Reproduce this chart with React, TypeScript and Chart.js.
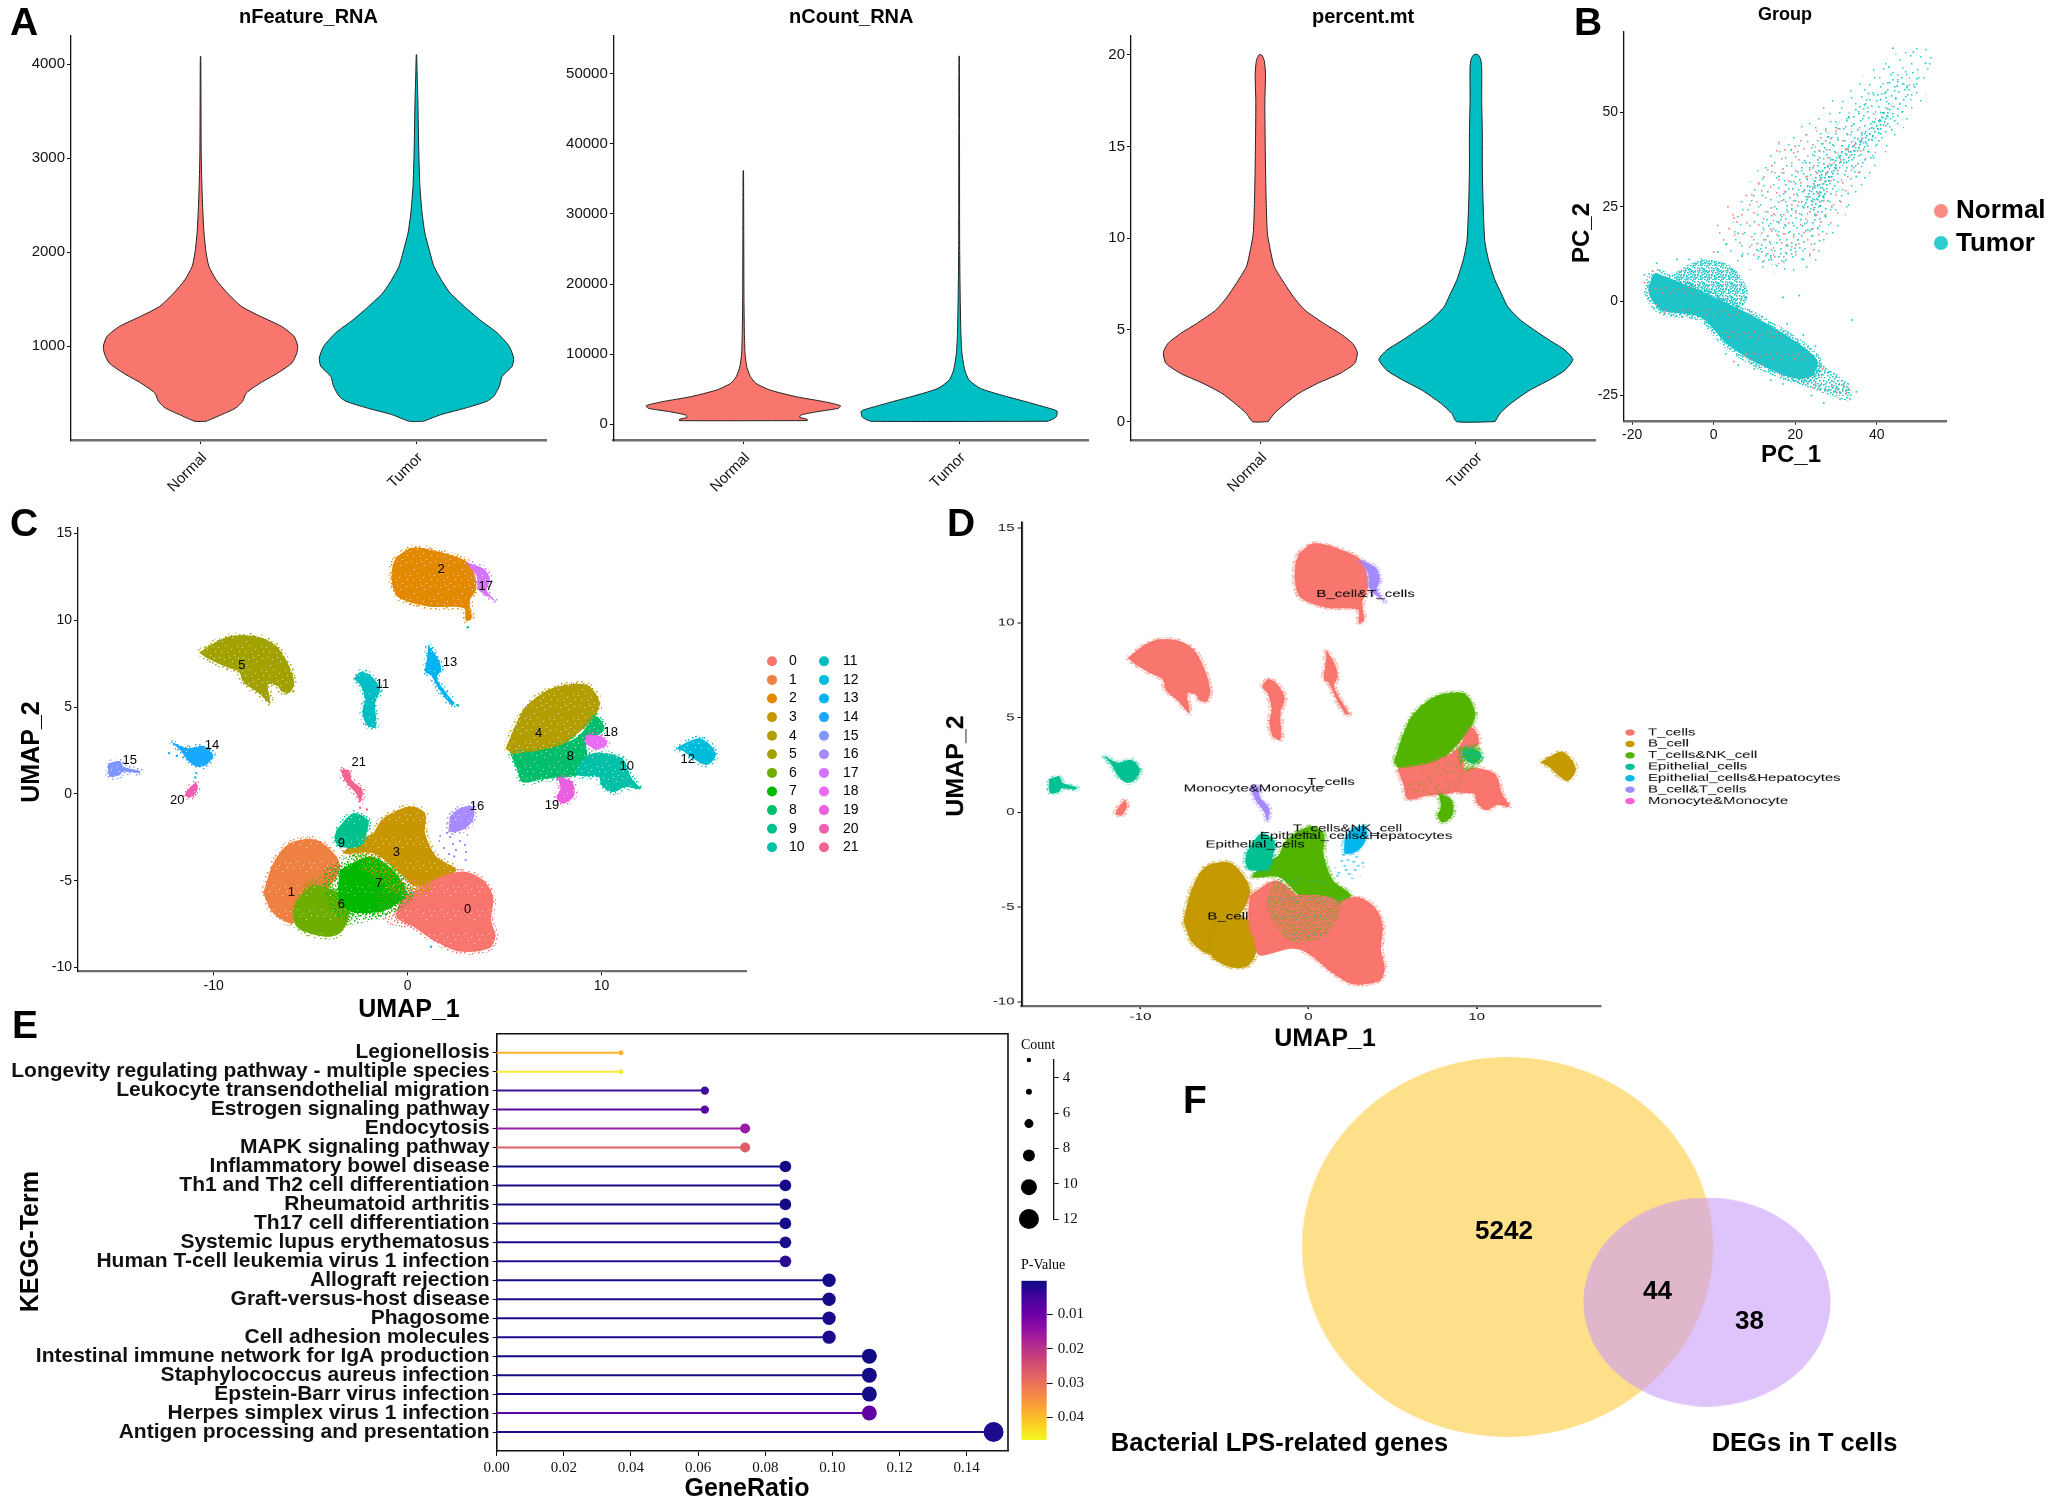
import React, { useEffect, useRef } from "react";
import { Chart, registerables } from "chart.js";
Chart.register(...registerables);

const SANS = '"Liberation Sans", Arial, sans-serif';
const SERIF = '"Liberation Serif", "Times New Roman", serif';
const RED = "#F8766D";
const TEAL = "#00BFC4";

// ---------- Panel A: violin profiles (value, half width in category units) ----------
const groups = ["Normal", "Tumor"];
const featureNormalV = [199, 270, 340, 411, 500, 606, 713, 819, 926, 1000, 1103, 1209, 1316, 1422, 1564, 1706, 1847, 1989, 2202, 2415, 2698, 3053, 3620, 4081];
const featureNormalW = [0.026, 0.098, 0.163, 0.195, 0.212, 0.277, 0.358, 0.423, 0.446, 0.45, 0.433, 0.375, 0.277, 0.189, 0.124, 0.072, 0.039, 0.026, 0.016, 0.011, 0.0065, 0.003, 0.002, 0.001];
const featureTumorV = [199, 270, 340, 411, 465, 571, 677, 784, 872, 996, 1138, 1280, 1422, 1564, 1670, 1847, 2025, 2202, 2415, 2698, 3053, 3620, 3904, 4099];
const featureTumorW = [0.033, 0.114, 0.228, 0.326, 0.358, 0.384, 0.397, 0.443, 0.45, 0.43, 0.375, 0.293, 0.221, 0.156, 0.124, 0.081, 0.059, 0.039, 0.026, 0.016, 0.011, 0.0065, 0.003, 0.001];
const countNormalV = [521, 711, 995, 1327, 1801, 2275, 2654, 3223, 3934, 4882, 5830, 6778, 8200, 10096, 12940, 17680, 27160, 36166];
const countNormalW = [0.296, 0.296, 0.261, 0.267, 0.342, 0.44, 0.45, 0.375, 0.244, 0.124, 0.059, 0.033, 0.016, 0.008, 0.005, 0.003, 0.002, 0.001];
const countTumorV = [427, 711, 1090, 1896, 2512, 3223, 4171, 5119, 6304, 7726, 10096, 12940, 17680, 22420, 27160, 52519];
const countTumorW = [0.407, 0.433, 0.45, 0.453, 0.391, 0.309, 0.195, 0.098, 0.046, 0.026, 0.013, 0.008, 0.005, 0.003, 0.002, 0.001];
const mtNormalV = [0, 0.45, 1, 1.54, 2.09, 2.63, 3.18, 3.76, 4.26, 4.81, 5.35, 6.08, 6.8, 7.53, 8.44, 8.98, 10.25, 12.07, 13.88, 15.7, 17.5, 18.97, 19.7, 20];
const mtNormalW = [0.036, 0.065, 0.118, 0.178, 0.266, 0.37, 0.438, 0.45, 0.429, 0.37, 0.296, 0.207, 0.154, 0.112, 0.065, 0.053, 0.033, 0.027, 0.024, 0.022, 0.021, 0.024, 0.018, 0.006];
const mtTumorV = [0, 0.45, 1, 1.72, 2.27, 2.81, 3.39, 3.9, 4.45, 4.99, 5.54, 6.26, 6.99, 7.71, 8.8, 9.89, 12.07, 13.88, 15.7, 17.5, 19.33, 19.8, 20.02];
const mtTumorW = [0.089, 0.112, 0.163, 0.251, 0.34, 0.414, 0.45, 0.414, 0.34, 0.272, 0.207, 0.148, 0.118, 0.089, 0.059, 0.041, 0.033, 0.03, 0.03, 0.027, 0.027, 0.021, 0.009];
const featureTicks = [1000, 2000, 3000, 4000];
const countTicks = [0, 10000, 20000, 30000, 40000, 50000];
const mtTicks = [0, 5, 10, 15, 20];

// ---------- Panel B: PCA ----------
const pcXTicks = [-20, 0, 20, 40];
const pcYTicks = [-25, 0, 25, 50];
const pcBand = [[-14.3, 7.5], [-6.5, 4.2], [1.4, 0.3], [7.7, -2.8], [15.6, -7.6], [21.9, -12.1], [25.5, -16], [24, -20], [20, -20.5], [14, -18.2], [7.7, -14.7], [3, -11.1], [-3.3, -4.2], [-12.8, -2.4], [-15.9, 2], [-15.1, 6.6]];
const pcBandTail = [[21, -12], [27.4, -17.4], [32.9, -21.8], [33.7, -26.2], [29.8, -25.4], [23.5, -23], [18, -20]];
const pcBump = [[-10, 7], [-6.5, 9.5], [-1.7, 11], [4.6, 9], [8.5, 2], [6.1, -2], [0, 0.3], [-6.5, 2.9]];
const pcArmOuter = [[2, 12], [8, 30], [18, 44], [30, 54], [42, 64], [53, 68], [52, 55], [44, 42], [36, 30], [30, 18], [24, 9], [10, 8]];
const pcArm = [[9.3, 10], [14, 25], [21.9, 37.4], [32.9, 49.7], [43.9, 59.5], [51, 61.2], [47.1, 50.6], [39.2, 38.3], [31.3, 30.4], [27.4, 22.5], [23.5, 15.3], [17.2, 10]];
const pcArmCore = [[21.9, 25], [25, 33.8], [39.2, 47], [43.9, 53.3], [40.8, 44.5], [29.8, 33.8], [25.8, 23.2]];
const pcArmNormal = [[-0.2, 17.9], [9.3, 30.3], [17.2, 41.8], [32.9, 46.2], [38, 40], [30, 22], [24, 12], [10, 10]];
const pcTumorStray = [[43, 62], [44, 67], [49, 66], [52, 63], [38, 55], [45, 57], [37, 52], [30, 46], [28, 43.5], [41, 50], [47.5, 57], [35, 33], [33, 28.5], [26, 28], [24, 19], [20, 14], [14, 12], [10, 21], [6, 18], [3, 15], [1, 13], [-3, 11], [-6, 11], [7, 12], [30, 35], [36, 42], [42, 55], [16, 33], [19, 40], [12, 28], [22, 11], [26, 16], [29, 25], [34, -5], [21, 1.5], [17, 1], [-9, 11], [-14, 10], [-17, 7], [-16, 4], [30, -20], [31, -26], [35, -24], [27, -27], [25, -12], [22, -9], [18, -6], [33, -22], [3, -14], [6, -17], [10, -18], [14, -21], [17, -22], [24, -25]];
const pcNormalStray = [[0, 13], [1, 20], [3.5, 25], [5, 22], [8, 28], [11, 31], [16, 42], [20, 41], [17, 35], [23, 33], [27, 31], [28, 38], [33, 40], [30, 45], [18, 15], [24, 15], [-17, 5], [-15, 8], [-14, -1], [-12, -3], [30, -24], [33, -23], [25, -22], [5, -16], [8, -14], [12, -17]];

// ---------- Panels C and D: UMAP cluster outlines ----------
const umapXTicks = [-10, 0, 10];
const umapYTicks = [-10, -5, 0, 5, 10, 15];
const cluster0 = [[-0.3, -5.9], [0.45, -5.53], [1.48, -4.9], [2.85, -4.47], [3.88, -4.95], [4.4, -5.91], [4.31, -7.26], [4.53, -8.22], [4.22, -8.89], [2.68, -9.08], [1.31, -8.41], [0.28, -7.64], [-0.58, -7.07]];
const cluster1 = [[-7.45, -5.72], [-6.93, -3.99], [-6.07, -2.84], [-4.7, -2.65], [-3.67, -3.61], [-3.5, -4.38], [-4.18, -5.53], [-5.04, -6.3], [-5.9, -7.45], [-6.93, -6.87]];
const cluster2 = [[-0.6, 13.65], [0.3, 14.2], [2, 13.84], [3.2, 13.25], [3.55, 11.9], [3.2, 11.1], [3.3, 10.1], [3, 10], [2.9, 10.7], [1.05, 10.8], [-0.45, 11.3], [-0.8, 12.1], [-0.8, 13]];
const cluster3 = [[-1.77, -2.27], [-1.25, -1.4], [0.12, -0.73], [0.9, -1.11], [0.9, -2.27], [1.48, -3.61], [2.51, -4.38], [1.65, -4.95], [0.45, -5.34], [-0.41, -4.57], [-1.77, -3.42], [-3.33, -3.42], [-2.47, -2.65]];
const cluster4 = [[5.06, 2.63], [5.61, 4.09], [6.21, 5.17], [7.58, 6.14], [9.24, 6.28], [9.91, 5.26], [9.55, 4.29], [8.79, 3.51], [7.73, 2.53], [7.12, 2.14], [5.76, 2.05]];
const cluster5 = [[-10.76, 8.15], [-9.7, 8.87], [-8.94, 9.12], [-7.73, 9.06], [-6.82, 8.58], [-6.21, 7.6], [-5.85, 6.43], [-6.06, 5.85], [-6.5, 5.9], [-6.7, 6.2], [-7.2, 6.3], [-7.1, 5.5], [-7.12, 5.22], [-7.73, 5.85], [-8.48, 6.43], [-8.7, 7.02], [-9.55, 7.4], [-10.3, 7.8]];
const cluster6 = [[-4.9, -5.2], [-3.5, -5.72], [-3, -6.87], [-3.5, -8.03], [-4.35, -8.22], [-5.73, -7.64], [-5.8, -6.3]];
const cluster7 = [[-3.5, -4.38], [-1.95, -3.6], [-0.76, -4.38], [-0.07, -5.72], [-1.1, -6.68], [-2.64, -6.87], [-3.33, -6.49], [-3.58, -5.53]];
const cluster8 = [[5.3, 2.3], [7.27, 2.6], [8.79, 3.31], [9.7, 4.48], [10.15, 3.7], [9.24, 2.92], [9.3, 1.9], [9, 1.2], [8.2, 0.95], [7.12, 0.88], [5.91, 0.68], [5.67, 1.36]];
const cluster9 = [[-3.67, -2.07], [-2.81, -1.11], [-2.04, -1.5], [-2.12, -2.27], [-2.47, -3.03], [-3.5, -3.03], [-3.76, -2.65]];
const cluster10 = [[8.79, 1.56], [9.55, 2.34], [11.06, 2.05], [11.52, 0.97], [11.97, 0.29], [11.21, 0.39], [10.6, 0.1], [10, 0.49], [9.85, 0.97], [8.79, 1.07]];
const cluster11 = [[-2.79, 6.63], [-2.42, 7.02], [-1.91, 6.82], [-1.42, 6.04], [-1.67, 5.26], [-1.61, 4], [-1.73, 3.8], [-2.12, 4], [-2.33, 4.68], [-2.21, 5.46], [-2.42, 6.24]];
const cluster12 = [[13.79, 2.63], [15, 3.2], [15.6, 2.83], [15.9, 2.24], [15.45, 1.66], [14.85, 1.95], [14.24, 2.44]];
const cluster13 = [[1.06, 8.58], [1.52, 7.89], [1.73, 7.21], [1.52, 6.63], [1.97, 5.85], [2.42, 5.17], [2.21, 5.17], [1.61, 6.04], [1.21, 6.82], [0.91, 7.02], [1, 7.8]];
const cluster14 = [[-12.21, 3.02], [-11.36, 2.63], [-10.55, 2.77], [-10.03, 2.24], [-10.39, 1.66], [-10.85, 1.56], [-11.36, 1.95], [-11.67, 2.44]];
const cluster15 = [[-15.45, 1.75], [-14.85, 1.89], [-14.64, 1.56], [-13.79, 1.31], [-13.85, 1.21], [-14.7, 1.27], [-14.85, 1.07], [-15.36, 1], [-15.45, 1.36]];
const cluster16 = [[2.17, -1.3], [2.68, -0.83], [3.37, -0.73], [3.37, -1.5], [2.85, -2.07], [2.17, -2.17]];
const cluster17 = [[3.03, 13.35], [3.94, 12.96], [4.24, 12.38], [4.09, 11.7], [4.55, 11.1], [4.24, 11.3], [3.64, 11.79], [3.55, 12.57]];
const cluster18 = [[9.24, 3.41], [10, 3.31], [10.3, 2.92], [9.79, 2.57], [9.18, 2.92]];
const cluster19 = [[7.73, 1], [8.48, 0.7], [8.58, -0.1], [8.03, -0.55], [7.67, -0.2], [7.88, 0.29]];
const cluster20 = [[-10.91, 0.68], [-10.82, 0.29], [-11.12, -0.16], [-11.48, -0.1], [-11.3, 0.29]];
const cluster21 = [[-3.48, 1.4], [-3, 1.36], [-2.88, 0.78], [-2.33, 0.2], [-2.45, -0.49], [-2.64, 0], [-3.18, 0.68]];
const clusters = [cluster0, cluster1, cluster2, cluster3, cluster4, cluster5, cluster6, cluster7, cluster8, cluster9, cluster10, cluster11, cluster12, cluster13, cluster14, cluster15, cluster16, cluster17, cluster18, cluster19, cluster20, cluster21];
const clusterColors = ["#F8766D", "#EE8042", "#E28900", "#C89600", "#B29E00", "#A1A100", "#6EAE00", "#00B800", "#00BE6B", "#00C08E", "#00C1A7", "#00BFC4", "#00BBDB", "#00B3F2", "#19A8FF", "#7F96FF", "#A88BFF", "#D575FE", "#E96CF3", "#EA5FDD", "#EF5FB0", "#F4648F"];
const clusterLabelX = [3.09, -6, 1.73, -0.58, 6.76, -8.55, -3.42, -1.48, 8.39, -3.42, 11.3, -1.3, 14.45, 2.18, -10.09, -14.33, 3.58, 4.03, 10.48, 7.45, -11.88, -2.52];
const clusterLabelY = [-6.63, -5.69, 12.96, -3.35, 3.51, 7.41, -6.39, -5.17, 2.14, -2.88, 1.56, 6.28, 1.99, 7.6, 2.77, 1.91, -0.74, 11.95, 3.53, -0.64, -0.35, 1.79];
const paintOrder = [1, 6, 3, 9, 0, 7, 2, 17, 5, 11, 13, 14, 15, 20, 21, 12, 4, 8, 10, 18, 19, 16];
const cluster16Sparse = [[1.65, -2.27], [3.2, -2.07], [3.03, -3.42], [1.65, -3.42]];
const mix7 = [[-4.35, -4.38], [-2.47, -3.42], [-0.41, -4.57], [0.28, -5.91], [-0.76, -6.87], [-2.47, -7.45], [-3.33, -7.45], [-4.18, -6.1]];
const mix3 = [[-3.18, -3.31], [-1.67, -2.73], [0.15, -4.48], [1.36, -5.26], [0.15, -6.04], [-1.67, -4.87]];
const mix6 = [[-5.3, -5.07], [-4.09, -4.68], [-4.09, -7.02], [-5.6, -7.41]];
const mix0 = [[-1.5, -5.5], [0.5, -5], [0.6, -7.6], [-1.5, -7.2]];
const mix8 = [[5.7, 1.9], [7.4, 2.4], [8.9, 3.6], [9.9, 2.6], [8.6, 1.2], [6.4, 0.8]];
const mix18 = [[8.8, 3.4], [10.1, 3.6], [10.3, 2.5], [9.2, 2.2]];
const mixD = [[-2, -3.5], [0, -3.3], [2, -4.5], [1, -6.5], [-1, -6.8], [-2.5, -5]];
const bridgeD = [[-3.2, -4.4], [1.6, -4.6], [1.2, -7.4], [-1, -7.2], [-3, -7.5]];
const umapStray = [[-12.3, 2.35, 14], [-11.9, 2.2, 14], [-10.9, 1.2, 14], [-10.95, 0.95, 14], [2.6, 5.1, 8], [3.1, 9.6, 9], [-2.1, -0.9, 21], [-2.45, -0.8, 21], [1.75, -3.9, 3], [3, -3.8, 16], [2.4, -3.6, 16], [12, 0.4, 10], [1.2, -8.8, 13], [-0.1, -5.6, 9], [0.2, -5.7, 9]];

const cellTypes = ["T_cells", "B_cell", "T_cells&NK_cell", "Epithelial_cells", "Epithelial_cells&Hepatocytes", "B_cell&T_cells", "Monocyte&Monocyte"];
const cellColors = ["#F8766D", "#C49A00", "#53B400", "#00C094", "#00B6EB", "#A58AFF", "#FB61D7"];
const clusterCellType = [0, 1, 0, 2, 2, 0, 1, 0, 0, 3, 0, 0, 1, 0, 3, 3, 4, 5, 3, 2, 0, 5];
const cellLabelX = [1.33, -4.8, 2.32, -3.18, 2.83, 3.39, -3.26];
const cellLabelY = [1.6, -5.51, -0.87, -1.7, -1.26, 11.51, 1.25];

// ---------- Panel E: KEGG lollipops ----------
const keggTerms = ["Legionellosis", "Longevity regulating pathway - multiple species", "Leukocyte transendothelial migration", "Estrogen signaling pathway", "Endocytosis", "MAPK signaling pathway", "Inflammatory bowel disease", "Th1 and Th2 cell differentiation", "Rheumatoid arthritis", "Th17 cell differentiation", "Systemic lupus erythematosus", "Human T-cell leukemia virus 1 infection", "Allograft rejection", "Graft-versus-host disease", "Phagosome", "Cell adhesion molecules", "Intestinal immune network for IgA production", "Staphylococcus aureus infection", "Epstein-Barr virus infection", "Herpes simplex virus 1 infection", "Antigen processing and presentation"];
const keggRatio = [0.037, 0.037, 0.062, 0.062, 0.074, 0.074, 0.086, 0.086, 0.086, 0.086, 0.086, 0.086, 0.099, 0.099, 0.099, 0.099, 0.111, 0.111, 0.111, 0.111, 0.148];
const keggCount = [3, 3, 5, 5, 6, 6, 7, 7, 7, 7, 7, 7, 8, 8, 8, 8, 9, 9, 9, 9, 12];
const keggColors = ["#FBB32F", "#F4E838", "#3F0E9C", "#5A06A3", "#9A1BA5", "#DD5E67", "#150B88", "#160B88", "#150B88", "#150B88", "#1A0C8C", "#2A0C93", "#140B87", "#160B88", "#180B8A", "#1A0C8C", "#130B86", "#140B87", "#160B88", "#6003A5", "#1E0C8E"];
const ratioTicks = [0, 0.02, 0.04, 0.06, 0.08, 0.1, 0.12, 0.14];
const sizeLegendCounts = [3, 4.8, 6.6, 8.4, 10.2, 12];
const sizeLegendRadius = [2.2, 3, 4.5, 6, 8, 10];
const sizeLegendTicks = [4, 6, 8, 10, 12];
const pValueTicks = [0.01, 0.02, 0.03, 0.04];
const pValueRange = [0.0002, 0.0466];
const plasmaStops = ["#0D0887", "#41049D", "#6A00A8", "#8F0DA4", "#B12A90", "#CC4678", "#E16462", "#F1844B", "#FCA636", "#FCCE25", "#F0F921"];

// ---------- Panel F: Venn ----------
const vennX = [407.5, 607];
const vennY = [207, 262];
const vennRx = [205.7, 123.6];
const vennRy = [190, 104.4];
const vennColors = ["rgb(254,224,139)", "rgba(200,152,248,0.58)"];
const vennCounts = ["5242", "44", "38"];
const vennCountX = [404, 557.4, 649.5];
const vennCountY = [191.7, 251.7, 281.7];
const vennNames = ["Bacterial LPS-related genes", "DEGs in T cells"];

const TILE = [[3, 5], [17, 2], [29, 9], [41, 4], [9, 14], [23, 16], [36, 21], [46, 13], [5, 26], [15, 30], [31, 33], [43, 27], [12, 41], [26, 25], [38, 44], [21, 38], [1, 36], [33, 1], [8, 21], [19, 10], [44, 36], [27, 43], [35, 12], [13, 33], [47, 22], [6, 44], [24, 6], [40, 30], [16, 20], [30, 18], [2, 15], [37, 38], [10, 8], [22, 29], [45, 45], [28, 35], [18, 46], [34, 26], [42, 17], [4, 32]];

function stipple(color: string, count: number, size: number, bg?: string, tile = 48) {
  const c = document.createElement("canvas");
  c.width = tile; c.height = tile;
  const g = c.getContext("2d")!;
  if (bg) { g.fillStyle = bg; g.fillRect(0, 0, tile, tile); }
  g.fillStyle = color;
  TILE.slice(0, count).forEach(([x, y]) => g.fillRect(Math.round((x * tile) / 48), Math.round((y * tile) / 48), size, size));
  return g.createPattern(c, "repeat")!;
}

type Box = { x: number; y: number; w: number; h: number; sx?: number };
type Plot = { l: number; t: number; r: number; b: number };
type Item = { t: string; x: number; y: number; font: string; align?: string; color?: string; rot?: number; flat?: boolean; data?: boolean };
type Dot = { x: number; y: number; r: number; color: string };

function overlay(box: Box, items: Item[], dots: Dot[] = [], frameRect?: Plot) {
  const sx = box.sx || 1;
  return {
    id: "overlay",
    afterDraw(chart: any) {
      const ctx = chart.ctx;
      ctx.save();
      if (frameRect) {
        ctx.strokeStyle = "#111"; ctx.lineWidth = 1.6;
        ctx.beginPath();
        ctx.moveTo(frameRect.l - box.x, frameRect.t - box.y);
        ctx.lineTo(frameRect.r - box.x, frameRect.t - box.y);
        ctx.lineTo(frameRect.r - box.x, frameRect.b - box.y);
        ctx.stroke();
      }
      dots.forEach((d) => {
        ctx.fillStyle = d.color;
        ctx.beginPath();
        ctx.arc((d.x - box.x) / sx, d.y - box.y, d.r, 0, Math.PI * 2);
        ctx.fill();
      });
      items.forEach((it) => {
        const px = it.data ? chart.scales.x.getPixelForValue(it.x) : (it.x - box.x) / sx;
        const py = it.data ? chart.scales.y.getPixelForValue(it.y) : it.y - box.y;
        ctx.save();
        ctx.translate(px, py);
        if (it.flat && sx !== 1) ctx.scale(1 / sx, 1);
        if (it.rot) ctx.rotate(it.rot);
        ctx.font = it.font;
        ctx.fillStyle = it.color || "#000";
        ctx.textAlign = it.align || "center";
        ctx.textBaseline = "middle";
        ctx.fillText(it.t, 0, 0);
        ctx.restore();
      });
      ctx.restore();
    },
  };
}

function axis(o: any) {
  const horizontal = o.side === "bottom" || o.side === "top";
  return {
    type: "linear",
    min: o.min,
    max: o.max,
    reverse: !!o.reverse,
    position: o.side,
    display: o.hidden ? false : true,
    afterBuildTicks: (s: any) => { s.ticks = (o.ticks || []).map((v: number) => ({ value: v })); },
    afterFit: (s: any) => {
      if (horizontal) s.height = o.fit; else s.width = o.fit;
      s.paddingLeft = 0; s.paddingRight = 0; s.paddingTop = 0; s.paddingBottom = 0;
    },
    grid: { display: true, drawOnChartArea: false, drawTicks: true, tickLength: o.tick ?? 4, tickColor: "#111", color: "#111" },
    border: { display: o.noBorder ? false : true, color: o.lineColor || "#111", width: o.lineWidth || 1.3 },
    ticks: {
      autoSkip: false,
      maxRotation: o.rotate || 0,
      minRotation: o.rotate || 0,
      labelOffset: o.labelOffset || 0,
      padding: o.pad ?? 2,
      color: "#111",
      font: { family: o.family || SANS, size: o.size || 14, weight: o.weight || "normal" },
      callback: (v: number) => (o.label ? o.label(v) : String(v)),
    },
  };
}

function base(box: Box, plot: Plot, scales: any, extra: any = {}) {
  const sx = box.sx || 1;
  return {
    animation: false,
    responsive: false,
    maintainAspectRatio: false,
    devicePixelRatio: sx !== 1 ? 2 : 1,
    events: [],
    layout: {
      autoPadding: false,
      padding: {
        left: extra.padLeft ? (plot.l - box.x) / sx : 0,
        top: plot.t - box.y,
        right: extra.padRight === false ? 0 : (box.x + box.w - plot.r) / sx,
        bottom: extra.padBottom ? box.y + box.h - plot.b : 0,
      },
    },
    plugins: { legend: { display: false }, tooltip: { enabled: false } },
    scales,
  };
}

function shape(points: number[][], fill: any, line?: any, opts: any = {}) {
  return {
    type: "scatter",
    data: points.concat([points[0]]).map(([x, y]) => ({ x, y })),
    showLine: true,
    fill: "shape",
    backgroundColor: fill,
    borderColor: line || "rgba(0,0,0,0)",
    borderWidth: line ? opts.width ?? 5 : 0,
    borderDash: opts.dash ?? [],
    pointRadius: 0,
    tension: opts.tension ?? 0.3,
  };
}

function strays(points: number[][], color: string, r: number) {
  return { type: "scatter", data: points.map(([x, y]) => ({ x, y })), backgroundColor: color, borderWidth: 0, pointRadius: r };
}

function violin(center: number, v: number[], w: number[], color: string) {
  const right = v.map((val, i) => [center + w[i], val]);
  const left = v.map((val, i) => [center - w[i], val]).reverse();
  return shape(right.concat(left), color, "#222", { width: 1, tension: 0.2 });
}

function violinChart(box: Box, plot: Plot, name: string, ticks: number[], ymin: number, ymax: number, a: any[], xMax = 2.6) {
  const items: Item[] = [{ t: name, x: (plot.l + plot.r) / 2, y: 17, font: `bold 20px ${SANS}` }];
  return {
    type: "scatter",
    data: { datasets: [violin(1, a[0], a[1], RED), violin(2, a[2], a[3], TEAL)] },
    options: base(box, plot, {
      x: axis({ side: "bottom", min: 0.4, max: xMax, ticks: [1, 2], label: (v: number) => groups[v - 1], rotate: 45, size: 15, fit: box.y + box.h - plot.b, lineColor: "#6e6e6e", lineWidth: 2.6, pad: 5, labelOffset: 4 }),
      y: axis({ side: "left", min: ymin, max: ymax, ticks, size: 15, fit: plot.l - box.x }),
    }),
    plugins: [overlay(box, items)],
  };
}

function umapLayersC() {
  const layers: any[] = [];
  paintOrder.forEach((id) => {
    const col = clusterColors[id];
    const airy = id === 4 || id === 5 || id === 10 || id === 8 || id === 2;
    layers.push(shape(clusters[id], stipple("rgba(255,255,255,0.7)", airy ? 14 : 8, 1, col, 24), stipple(col, 40, 1.5, undefined, 22), { width: 6 }));
  });
  layers.push(shape(mix0, stipple(clusterColors[0], 40, 1.5, undefined, 20)));
  layers.push(shape(mix6, stipple(clusterColors[6], 40, 1.5, undefined, 18)));
  layers.push(shape(mix3, stipple(clusterColors[3], 40, 1.5, undefined, 18)));
  layers.push(shape(mix7, stipple(clusterColors[7], 40, 1.5, undefined, 20)));
  layers.push(shape(cluster16Sparse, stipple(clusterColors[16], 22, 2, undefined, 36)));
  clusterColors.forEach((c, id) => {
    const pts = umapStray.filter((p) => p[2] === id);
    if (pts.length) layers.push(strays(pts, c, 1.2));
  });
  return layers.reverse();
}

function umapLayersD() {
  const layers: any[] = [];
  const colorOf = (id: number) => cellColors[clusterCellType[id]];
  paintOrder.forEach((id) => {
    if (id === 0) layers.push(shape(bridgeD, cellColors[0]));
    layers.push(shape(clusters[id], colorOf(id), stipple(colorOf(id), 40, 1.2, undefined, 14), { width: 4 }));
  });
  layers.push(shape(mixD, stipple(cellColors[2], 40, 1, undefined, 14)));
  layers.push(shape(mixD, stipple(cellColors[4], 5, 1, undefined, 18)));
  layers.push(shape(mix8, stipple(cellColors[2], 14, 1, undefined, 20)));
  layers.push(shape(mix18, stipple(cellColors[2], 40, 1.2, undefined, 12)));
  layers.push(shape(cluster16Sparse, stipple(cellColors[4], 22, 1.5, undefined, 26)));
  return layers.reverse();
}

const boxA1: Box = { x: 0, y: 0, w: 550, h: 495 };
const boxA2: Box = { x: 555, y: 0, w: 540, h: 495 };
const boxA3: Box = { x: 1095, y: 0, w: 505, h: 495 };
const boxB: Box = { x: 1570, y: 0, w: 480, h: 495 };
const boxC: Box = { x: 0, y: 500, w: 920, h: 530 };
const boxD: Box = { x: 940, y: 500, w: 960, h: 560, sx: 1.5 };
const boxE: Box = { x: 0, y: 1015, w: 1012, h: 491 };
const boxCount: Box = { x: 1015, y: 1030, w: 80, h: 210 };
const boxBar: Box = { x: 1015, y: 1255, w: 80, h: 200 };
const boxF: Box = { x: 1100, y: 1040, w: 950, h: 466 };

const PANELS: { key: string; box: Box; build: (c: HTMLCanvasElement) => any }[] = [
  { key: "a1", box: boxA1, build: () => violinChart(boxA1, { l: 71, t: 36, r: 546, b: 440 }, "nFeature_RNA", featureTicks, 0, 4298, [featureNormalV, featureNormalW, featureTumorV, featureTumorW]) },
  { key: "a2", box: boxA2, build: () => violinChart(boxA2, { l: 613.8, t: 36, r: 1088.7, b: 440 }, "nCount_RNA", countTicks, -2240, 55370, [countNormalV, countNormalW, countTumorV, countTumorW]) },
  { key: "a3", box: boxA3, build: () => violinChart(boxA3, { l: 1131, t: 36, r: 1595.3, b: 440 }, "percent.mt", mtTicks, -1, 21.03, [mtNormalV, mtNormalW, mtTumorV, mtTumorW], 2.554) },
  {
    key: "b", box: boxB, build: () => {
      const plot = { l: 1624, t: 32, r: 1946, b: 420.7 };
      const items: Item[] = [
        { t: "Group", x: 1785, y: 14.7, font: `bold 18px ${SANS}` },
        { t: "PC_1", x: 1791, y: 455, font: `bold 24px ${SANS}` },
        { t: "PC_2", x: 1582.5, y: 233, font: `bold 24px ${SANS}`, rot: -Math.PI / 2 },
        { t: groups[0], x: 1956, y: 211, font: `bold 26px ${SANS}`, align: "left" },
        { t: groups[1], x: 1956, y: 244, font: `bold 26px ${SANS}`, align: "left" },
      ];
      const dots: Dot[] = [{ x: 1941, y: 211, r: 7, color: "#F98B83" }, { x: 1941, y: 243, r: 7, color: "#2ECBCF" }];
      const layers = [
        shape(pcBandTail, stipple(RED, 10, 1.6, undefined, 24)),
        shape(pcBandTail, stipple("#19C3C8", 40, 1.6, undefined, 18)),
        shape(pcBump, stipple("#19C3C8", 40, 1.6, undefined, 14)),
        shape(pcArmOuter, stipple("#2ECBCF", 24, 1.5, undefined, 44)),
        shape(pcArm, stipple("#2ECBCF", 30, 1.6, undefined, 34)),
        shape(pcArmCore, stipple("#19C3C8", 40, 1.6, undefined, 26)),
        shape(pcArmNormal, stipple("#F98B83", 18, 1.6, undefined, 42)),
        shape(pcBand, stipple(RED, 6, 1.5, "#1FC4C9", 22), stipple("#1FC4C9", 36, 1.6, undefined, 16), { width: 9 }),
        strays(pcTumorStray, "#2ECBCF", 1),
        strays(pcNormalStray, "#F98B83", 1),
      ].reverse();
      return {
        type: "scatter",
        data: { datasets: layers },
        options: base(boxB, plot, {
          x: axis({ side: "bottom", min: -22, max: 57, ticks: pcXTicks, size: 14, fit: boxB.y + boxB.h - plot.b, lineColor: "#6e6e6e", lineWidth: 2.4 }),
          y: axis({ side: "left", min: -31.7, max: 71.3, ticks: pcYTicks, size: 14, fit: plot.l - boxB.x }),
        }),
        plugins: [overlay(boxB, items, dots)],
      };
    },
  },
  {
    key: "c", box: boxC, build: () => {
      const plot = { l: 78, t: 528, r: 746, b: 971.3 };
      const items: Item[] = [
        { t: "UMAP_1", x: 409, y: 1010.5, font: `bold 25px ${SANS}` },
        { t: "UMAP_2", x: 32, y: 752, font: `bold 25px ${SANS}`, rot: -Math.PI / 2 },
      ];
      clusterLabelX.forEach((x, i) => items.push({ t: String(i), x, y: clusterLabelY[i], data: true, font: `13px ${SANS}` }));
      const dots: Dot[] = [];
      clusterColors.forEach((color, i) => {
        const col = i < 11 ? 0 : 1;
        const row = i < 11 ? i : i - 11;
        const y = 661.3 + row * 18.6;
        dots.push({ x: col ? 824 : 772, y, r: 5, color });
        items.push({ t: String(i), x: col ? 843 : 789, y, font: `14px ${SANS}`, align: "left" });
      });
      return {
        type: "scatter",
        data: { datasets: umapLayersC() },
        options: base(boxC, plot, {
          x: axis({ side: "bottom", min: -17, max: 17.45, ticks: umapXTicks, size: 14, fit: boxC.y + boxC.h - plot.b, lineColor: "#6e6e6e", lineWidth: 2.2 }),
          y: axis({ side: "left", min: -10.22, max: 15.32, ticks: umapYTicks, size: 14, fit: plot.l - boxC.x }),
        }),
        plugins: [overlay(boxC, items, dots)],
      };
    },
  },
  {
    key: "d", box: boxD, build: () => {
      const plot = { l: 1022, t: 522, r: 1601, b: 1006 };
      const items: Item[] = [
        { t: "UMAP_1", x: 1325, y: 1039, font: `bold 25px ${SANS}`, flat: true },
        { t: "UMAP_2", x: 956, y: 766, font: `bold 25px ${SANS}`, flat: true, rot: -Math.PI / 2 },
      ];
      const dots: Dot[] = [];
      cellTypes.forEach((name, i) => {
        items.push({ t: name, x: cellLabelX[i], y: cellLabelY[i], data: true, font: `10px ${SANS}` });
        const y = 732.5 + i * 11.43;
        dots.push({ x: 1630, y, r: 3.2, color: cellColors[i] });
        items.push({ t: name, x: 1648, y, font: `10px ${SANS}`, align: "left" });
      });
      return {
        type: "scatter",
        data: { datasets: umapLayersD() },
        options: base(boxD, plot, {
          x: axis({ side: "bottom", min: -17.05, max: 17.4, ticks: umapXTicks, size: 10, fit: boxD.y + boxD.h - plot.b, lineColor: "#6e6e6e", lineWidth: 2.2, tick: 3 }),
          y: axis({ side: "left", min: -10.22, max: 15.32, ticks: umapYTicks, size: 10, fit: (plot.l - boxD.x) / 1.5, tick: 3 }),
        }),
        plugins: [overlay(boxD, items, dots)],
      };
    },
  },
  {
    key: "e", box: boxE, build: () => {
      const plot = { l: 496.7, t: 1033.7, r: 1008, b: 1451 };
      const rowCount = keggTerms.length;
      const items: Item[] = [
        { t: "GeneRatio", x: 747, y: 1489, font: `bold 25px ${SANS}` },
        { t: "KEGG-Term", x: 31.5, y: 1241.7, font: `bold 25px ${SANS}`, rot: -Math.PI / 2 },
      ];
      const datasets = keggTerms.map((_, i) => ({
        type: "scatter",
        data: [{ x: 0, y: rowCount - i }, { x: keggRatio[i], y: rowCount - i }],
        showLine: true,
        borderColor: keggColors[i],
        borderWidth: 2,
        backgroundColor: keggColors[i],
        pointRadius: [0, keggCount[i] * 5 / 6],
        pointBorderWidth: 0,
        clip: false,
      }));
      return {
        type: "scatter",
        data: { datasets },
        options: base(boxE, plot, {
          x: axis({ side: "bottom", min: 0, max: 0.1523, ticks: ratioTicks, family: SERIF, size: 15, label: (v: number) => v.toFixed(2), fit: boxE.y + boxE.h - plot.b, lineWidth: 1.6, tick: 5, pad: 3 }),
          y: axis({ side: "left", min: 0, max: rowCount + 1, ticks: keggTerms.map((_, i) => rowCount - i), size: 21, weight: "bold", label: (v: number) => keggTerms[rowCount - v], fit: plot.l - boxE.x, lineWidth: 1.6, tick: 4, pad: 3 }),
        }),
        plugins: [overlay(boxE, items, [], plot)],
      };
    },
  },
  {
    key: "count", box: boxCount, build: () => {
      const plot = { l: 1015, t: 1060, r: 1053.7, b: 1219 };
      return {
        type: "scatter",
        data: {
          datasets: [{
            data: sizeLegendCounts.map((y) => ({ x: 0.36, y })),
            backgroundColor: "#000",
            borderWidth: 0,
            pointRadius: sizeLegendRadius,
            clip: false,
          }],
        },
        options: base(boxCount, plot, {
          x: axis({ side: "bottom", min: 0, max: 1, hidden: true, fit: 0 }),
          y: axis({ side: "right", min: 3, max: 12, reverse: true, ticks: sizeLegendTicks, family: SERIF, size: 15, fit: boxCount.x + boxCount.w - plot.r, tick: 5, pad: 4 }),
        }, { padRight: false, padBottom: true, padLeft: true }),
        plugins: [overlay(boxCount, [{ t: "Count", x: 1021, y: 1045, font: `14px ${SERIF}`, align: "left" }])],
      };
    },
  },
  {
    key: "bar", box: boxBar, build: (canvas) => {
      const plot = { l: 1021.4, t: 1280.7, r: 1046.7, b: 1440 };
      const g = canvas.getContext("2d")!.createLinearGradient(0, plot.t - boxBar.y, 0, plot.b - boxBar.y);
      plasmaStops.forEach((c, i) => g.addColorStop(i / (plasmaStops.length - 1), c));
      return {
        type: "bar",
        data: { labels: ["P-Value"], datasets: [{ data: [pValueRange], backgroundColor: g, borderWidth: 0, barPercentage: 1, categoryPercentage: 1 }] },
        options: base(boxBar, plot, {
          x: { display: false },
          y: axis({ side: "right", min: pValueRange[0], max: pValueRange[1], reverse: true, ticks: pValueTicks, family: SERIF, size: 15, label: (v: number) => v.toFixed(2), fit: boxBar.x + boxBar.w - plot.r, noBorder: true, tick: 6, pad: 5 }),
        }, { padRight: false, padBottom: true, padLeft: true }),
        plugins: [overlay(boxBar, [{ t: "P-Value", x: 1021, y: 1265, font: `14px ${SERIF}`, align: "left" }])],
      };
    },
  },
  {
    key: "f", box: boxF, build: () => {
      const sprite = (i: number) => {
        const c = document.createElement("canvas");
        c.width = Math.ceil(vennRx[i] * 2); c.height = Math.ceil(vennRy[i] * 2);
        const g = c.getContext("2d")!;
        g.fillStyle = vennColors[i];
        g.beginPath();
        g.ellipse(c.width / 2, c.height / 2, vennRx[i], vennRy[i], 0, 0, Math.PI * 2);
        g.fill();
        return c;
      };
      const items: Item[] = vennCounts.map((t, i) => ({ t, x: boxF.x + vennCountX[i], y: boxF.y + vennCountY[i], font: `bold 26px ${SANS}` }));
      items.push({ t: vennNames[0], x: 1279.5, y: 1444, font: `bold 25.5px ${SANS}` });
      items.push({ t: vennNames[1], x: 1804.5, y: 1444, font: `bold 25.5px ${SANS}` });
      const plot = { l: boxF.x, t: boxF.y, r: boxF.x + boxF.w, b: boxF.y + boxF.h };
      return {
        type: "scatter",
        data: {
          datasets: [1, 0].map((i) => ({ data: [{ x: vennX[i], y: vennY[i] }], pointStyle: sprite(i), pointRadius: 5, clip: false })),
        },
        options: base(boxF, plot, {
          x: { type: "linear", display: false, min: 0, max: boxF.w },
          y: { type: "linear", display: false, min: 0, max: boxF.h, reverse: true },
        }),
        plugins: [overlay(boxF, items)],
      };
    },
  },
];

const letters = [["A", 10, 2], ["B", 1574, 2], ["C", 10, 503], ["D", 947, 503], ["E", 12, 1005], ["F", 1183, 1080]];

export default function App() {
  const refs = useRef<(HTMLCanvasElement | null)[]>([]);
  useEffect(() => {
    const charts = PANELS.map((p, i) => new Chart(refs.current[i] as any, p.build(refs.current[i]!) as any));
    return () => charts.forEach((c) => c.destroy());
  }, []);
  return (
    <div style={{ position: "absolute", left: 0, top: 0, width: 2050, height: 1506, background: "#fff", overflow: "hidden" }}>
      {PANELS.map((p, i) => {
        const sx = p.box.sx || 1;
        const w = p.box.w / sx;
        return (
          <canvas
            key={p.key}
            ref={(el) => { refs.current[i] = el; }}
            width={w}
            height={p.box.h}
            style={{ position: "absolute", left: p.box.x, top: p.box.y, width: w, height: p.box.h, transform: sx !== 1 ? `scaleX(${sx})` : undefined, transformOrigin: "0 0" }}
          />
        );
      })}
      {letters.map(([t, x, y]) => (
        <div key={t as string} style={{ position: "absolute", left: x as number, top: y as number, font: `bold 39px/39px ${SANS}`, color: "#000" }}>{t}</div>
      ))}
    </div>
  );
}
